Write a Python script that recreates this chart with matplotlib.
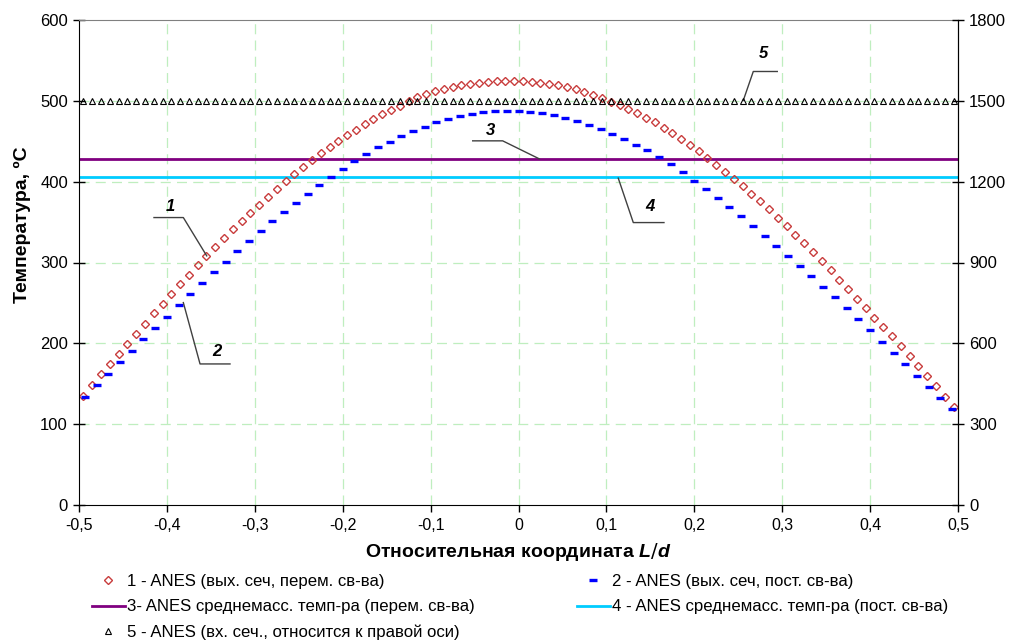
import numpy as np
import matplotlib.pyplot as plt
from matplotlib.lines import Line2D

plt.rcParams['font.family'] = ['Liberation Sans', 'DejaVu Sans']
plt.rcParams['mathtext.fontset'] = 'custom'
plt.rcParams['mathtext.it'] = 'Liberation Sans:italic:bold'

# 1 - outlet section, variable properties (100 points, cell centres)
x_var = np.linspace(-0.495, 0.495, 100)
t_var = [135, 148.5, 162, 174.5, 187, 199.5, 212, 224.5, 237, 249,
         261, 273, 285, 296.5, 308, 319.5, 330.5, 341, 351.5, 361.5,
         371.5, 381.5, 391, 400.5, 409.5, 418.5, 427, 435, 443, 450.5,
         457.5, 464.5, 471, 477.5, 483.5, 489, 494, 499.5, 504.5, 508.5,
         512, 515, 517.5, 519.5, 521, 522.5, 523.5, 524, 524.5, 524.5,
         524, 523.5, 522.5, 521, 519, 517, 514.2, 511, 507.5, 503.5,
         499, 494.5, 489.7, 484.5, 479, 473.2, 467, 460.3, 453.3, 445.8,
         437.9, 429.7, 421.2, 412.5, 403.6, 394.5, 385.1, 375.5, 365.7, 355.6,
         345.2, 334.6, 323.8, 312.8, 301.6, 290.2, 278.6, 266.8, 255, 243.3,
         231.7, 220.2, 208.6, 196.3, 184, 171.6, 159.1, 146.6, 134, 121.3]

# 2 - outlet section, constant properties (75 points)
x_const = np.linspace(-0.49333, 0.49333, 75)
t_const = [133.3, 148, 162.5, 176.8, 190.9, 205, 219, 233, 247, 260.8,
           274.4, 288, 301.2, 314, 326.5, 338.8, 350.8, 362.6, 374.2, 385.3,
           396, 406.2, 416, 425.3, 434.2, 442.4, 449.6, 456.2, 462.6, 468.2,
           473.2, 477.4, 481, 483.8, 485.8, 487, 487.6, 487.4, 486.4, 484.6,
           482, 478.6, 474.6, 470, 464.8, 459, 452.7, 445.9, 438.6, 430.8,
           421.5, 411.8, 401.4, 390.8, 379.8, 368.6, 357, 345.2, 333.2, 321,
           308.6, 296, 283.2, 270.2, 257, 243.5, 229.8, 216, 202, 188,
           174, 160, 146, 132, 118.5]

# 3, 4 - mass-averaged temperatures
t_mean_var = 427.8
t_mean_const = 405.5

# 5 - inlet section (right axis)
x_inlet = x_var
t_inlet = [1500] * 100

xticks = [-0.5, -0.4, -0.3, -0.2, -0.1, 0, 0.1, 0.2, 0.3, 0.4, 0.5]
xtick_labels = ['-0,5', '-0,4', '-0,3', '-0,2', '-0,1', '0', '0,1', '0,2', '0,3', '0,4', '0,5']

labels = ['1 - ANES (вых. сеч, перем. св-ва)',
          '2 - ANES (вых. сеч, пост. св-ва)',
          '3- ANES среднемасс. темп-ра (перем. св-ва)',
          '4 - ANES среднемасс. темп-ра (пост. св-ва)',
          '5 - ANES (вх. сеч., относится к правой оси)']

red = '#c83c3c'
blue = '#0000ff'
purple = '#800080'
cyan = '#00ccff'
grid_c = '#bfeebf'

fig = plt.figure(figsize=(10.13, 6.41), dpi=100)
ax = fig.add_axes([79/1013, 136/641, 879/1013, 485/641])

ax.set_xlim(-0.5, 0.5)
ax.set_ylim(0, 600)
ax.set_xticks(xticks)
ax.set_xticklabels(xtick_labels)
ax.set_yticks(range(0, 700, 100))

for v in xticks[1:-1]:
    ax.axvline(v, color=grid_c, lw=0.9, dashes=(8, 5), zorder=0)
for v in range(100, 600, 100):
    ax.axhline(v, color=grid_c, lw=0.9, dashes=(8, 5), zorder=0)

ax.plot([-0.5, 0.5], [t_mean_var, t_mean_var], color=purple, lw=2)
ax.plot([-0.5, 0.5], [t_mean_const, t_mean_const], color=cyan, lw=2)
ax.plot(x_var, t_var, ls='none', marker='D', ms=4.2, mfc='none', mec=red, mew=1)
ax.plot(x_const, t_const, ls='none', marker='_', ms=5.5, mec=blue, mew=2.4)

ax2 = ax.twinx()
ax2.set_ylim(0, 1800)
ax2.set_yticks(range(0, 2100, 300))
ax2.plot(x_inlet, t_inlet, ls='none', marker='^', ms=4.5, mfc='none', mec='black', mew=0.8)

for a in (ax, ax2):
    a.tick_params(direction='inout', length=8, width=1, labelsize=12, pad=4)
ax.tick_params(axis='x', direction='out', length=5, labelsize=11.5)
ax.spines['top'].set_color('#808080')
ax2.spines['top'].set_visible(False)
ax2.spines['left'].set_visible(False)
ax2.spines['bottom'].set_visible(False)

ax.set_xlabel('Относительная координата $\\mathit{L/d}$', fontsize=14, fontweight='bold')
ax.xaxis.set_label_coords(0.5, -0.074)
ax.set_ylabel('Температура, ºC', fontsize=14, fontweight='bold')
ax.yaxis.set_label_coords(-0.055, 0.577)

# leader lines with curve numbers
lead = dict(color='#404040', lw=1, clip_on=False, zorder=5)
num = dict(fontsize=12, fontweight='bold', style='italic', ha='center', va='center')
ax.plot([-0.4147, -0.3813, -0.3547], [355.6, 355.6, 308.2], **lead)
ax.text(-0.3957, 369.2, '1', **num)
ax.plot([-0.3813, -0.3623, -0.3282], [250.4, 174.5, 174.5], **lead)
ax.text(-0.3433, 189.7, '2', **num)
ax.plot([-0.0521, -0.018, 0.0237], [450.5, 450.5, 428.2], **lead)
ax.text(-0.0324, 463.2, '3', **num)
ax.plot([0.1135, 0.1306, 0.1655], [404.3, 349.4, 349.4], **lead)
ax.text(0.1496, 369.2, '4', **num)
ax.plot([0.2557, 0.2671, 0.2944], [500.4, 536.3, 536.3], **lead)
ax.text(0.2785, 559, '5', **num)

handles = [Line2D([], [], ls='none', marker='D', ms=4.2, mfc='none', mec=red, mew=1),
           Line2D([], [], color=purple, lw=2),
           Line2D([], [], ls='none', marker='^', ms=4.5, mfc='none', mec='black', mew=0.8),
           Line2D([], [], ls='none', marker='_', ms=5.5, mec=blue, mew=2.4),
           Line2D([], [], color=cyan, lw=2)]
order = [labels[0], labels[2], labels[4], labels[1], labels[3]]
fig.legend(handles, order, ncol=2, loc='upper left', bbox_to_anchor=(92/1013, 1 - 574/641),
           frameon=False, fontsize=12.1, handlelength=1.95, handletextpad=0.12,
           columnspacing=6.1, labelspacing=0.62, borderpad=0, borderaxespad=0)

fig.savefig('out.png', dpi=100)
